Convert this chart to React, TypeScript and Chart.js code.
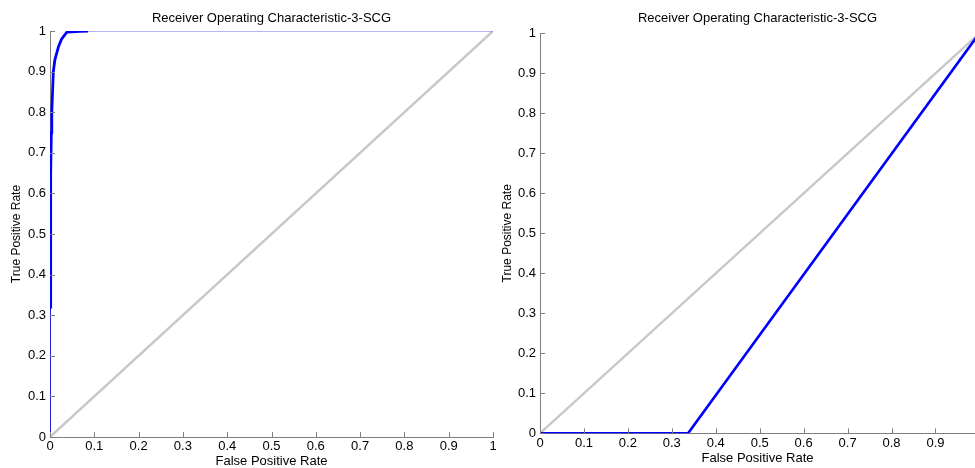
import React, { useEffect, useRef } from "react";
import { Chart, registerables } from "chart.js";

Chart.register(...registerables);

const titleText = "Receiver Operating Characteristic-3-SCG";
const xLabel = "False Positive Rate";
const yLabel = "True Positive Rate";

// Left chart: main ROC curve (thick part)
const rocFpr = [0, 0.001, 0.002, 0.003, 0.004, 0.0075, 0.011, 0.019, 0.026, 0.038, 0.049, 0.068, 0.086];
const rocTpr = [0.32, 0.5, 0.65, 0.75, 0.8, 0.9, 0.929, 0.961, 0.98, 0.997, 0.998, 0.999, 1];
// Left chart: thin start and tail of ROC curve
const rocStartFpr = [0, 0];
const rocStartTpr = [0, 0.32];
const rocTailFpr = [0.086, 1];
const rocTailTpr = [1, 1];
// Chance line
const diagFpr = [0, 1];
const diagTpr = [0, 1];
// Right chart ROC curve
const roc2Fpr = [0, 0.337, 1];
const roc2Tpr = [0, 0, 1];

const tickValues = [0, 0.1, 0.2, 0.3, 0.4, 0.5, 0.6, 0.7, 0.8, 0.9, 1];
const rightXTicks = [0, 0.1, 0.2, 0.3, 0.4, 0.5, 0.6, 0.7, 0.8, 0.9];

const FONT = "'Liberation Sans', Arial, sans-serif";
const AXIS = "#7f7f7f";

const pts = (xs: number[], ys: number[]) => xs.map((x, i) => ({ x, y: ys[i] }));

const decoPlugin = {
  id: "deco",
  afterDraw(chart: any) {
    const { ctx, chartArea, scales } = chart;
    ctx.save();
    ctx.strokeStyle = AXIS;
    ctx.lineWidth = 1;
    ctx.beginPath();
    scales.x.ticks.forEach((t: any) => {
      const px = Math.round(scales.x.getPixelForValue(t.value)) + 0.5;
      ctx.moveTo(px, chartArea.bottom);
      ctx.lineTo(px, chartArea.bottom - 5);
    });
    scales.y.ticks.forEach((t: any) => {
      const py = Math.round(scales.y.getPixelForValue(t.value)) + 0.5;
      ctx.moveTo(chartArea.left, py);
      ctx.lineTo(chartArea.left + 5, py);
    });
    ctx.stroke();
    ctx.fillStyle = "#000";
    ctx.font = `13px ${FONT}`;
    ctx.textAlign = "center";
    ctx.textBaseline = "middle";
    ctx.fillText(chart.options.plugins.deco.title, (chartArea.left + chartArea.right) / 2, 18.5);
    ctx.restore();
  },
};

function makeOptions(opts: {
  xmax: number;
  xTicks: number[];
  xHeight: number;
  xPad: number;
  xTitlePad: number;
  yTitlePad: number;
  padding: any;
}) {
  return {
    responsive: false,
    animation: false as const,
    layout: { padding: opts.padding, autoPadding: false },
    plugins: {
      legend: { display: false },
      tooltip: { enabled: false },
      title: { display: false },
      deco: { title: titleText },
    },
    elements: { point: { radius: 0 } },
    scales: {
      x: {
        type: "linear" as const,
        min: 0,
        max: opts.xmax,
        grid: { display: false, drawTicks: false, tickLength: 0 },
        border: { display: true, color: AXIS, width: 1 },
        afterBuildTicks: (s: any) => {
          s.ticks = opts.xTicks.map((v) => ({ value: v }));
        },
        afterFit: (s: any) => {
          s.height = opts.xHeight;
        },
        ticks: {
          padding: opts.xPad,
          color: "#000",
          maxRotation: 0,
          autoSkip: false,
          font: { family: FONT, size: 13 },
          callback: (v: any) => String(Math.round(Number(v) * 10) / 10),
        },
        title: {
          display: true,
          text: xLabel,
          color: "#000",
          font: { family: FONT, size: 13 },
          padding: { top: 0, bottom: opts.xTitlePad },
        },
      },
      y: {
        type: "linear" as const,
        min: 0,
        max: 1,
        grid: { display: false, drawTicks: false, tickLength: 0 },
        border: { display: true, color: AXIS, width: 1 },
        afterBuildTicks: (s: any) => {
          s.ticks = tickValues.map((v) => ({ value: v }));
        },
        afterFit: (s: any) => {
          s.width = 50;
        },
        ticks: {
          padding: 4,
          color: "#000",
          autoSkip: false,
          font: { family: FONT, size: 13 },
          callback: (v: any) => String(Math.round(Number(v) * 10) / 10),
        },
        title: {
          display: true,
          text: yLabel,
          color: "#000",
          font: { family: FONT, size: 12 },
          padding: { top: opts.yTitlePad, bottom: 0 },
        },
      },
    },
  };
}

function LeftChart() {
  const ref = useRef<HTMLCanvasElement>(null);
  useEffect(() => {
    const chart = new Chart(ref.current!, {
      type: "scatter",
      data: {
        datasets: [
          { data: pts(rocFpr, rocTpr), showLine: true, borderColor: "#0000ff", borderWidth: 2.8, order: 0 },
          { data: pts(rocStartFpr, rocStartTpr), showLine: true, borderColor: "#0000ff", borderWidth: 1.5, order: 1 },
          { data: pts(rocTailFpr, rocTailTpr), showLine: true, borderColor: "#6a6aff", borderWidth: 1.2, order: 1 },
          { data: pts(diagFpr, diagTpr), showLine: true, borderColor: "#c8c8c8", borderWidth: 2.4, order: 2 },
        ],
      },
      options: makeOptions({
        xmax: 1,
        xTicks: tickValues,
        xHeight: 31,
        xPad: 2,
        xTitlePad: -1.5,
        yTitlePad: 9.3,
        padding: { top: 31, right: 7, left: 0, bottom: 0 },
      }) as any,
      plugins: [decoPlugin],
    });
    return () => chart.destroy();
  }, []);
  return <canvas ref={ref} width={500} height={468} style={{ position: "absolute", left: 0, top: 0 }} />;
}

function RightChart() {
  const ref = useRef<HTMLCanvasElement>(null);
  useEffect(() => {
    const chart = new Chart(ref.current!, {
      type: "scatter",
      data: {
        datasets: [
          { data: pts(roc2Fpr, roc2Tpr), showLine: true, borderColor: "#0000ff", borderWidth: 2.6, order: 0 },
          { data: pts(diagFpr, diagTpr), showLine: true, borderColor: "#c8c8c8", borderWidth: 2.4, order: 1 },
        ],
      },
      options: makeOptions({
        xmax: 0.99,
        xTicks: rightXTicks,
        xHeight: 32.7,
        xPad: 2,
        xTitlePad: 0,
        yTitlePad: 10.8,
        padding: { top: 33.3, right: 0, left: 0, bottom: 2 },
      }) as any,
      plugins: [decoPlugin],
    });
    return () => chart.destroy();
  }, []);
  return <canvas ref={ref} width={485} height={468} style={{ position: "absolute", left: 490, top: 0 }} />;
}

export default function App() {
  return (
    <div style={{ position: "fixed", left: 0, top: 0, width: 975, height: 468, background: "#fff", overflow: "hidden" }}>
      <LeftChart />
      <RightChart />
    </div>
  );
}
